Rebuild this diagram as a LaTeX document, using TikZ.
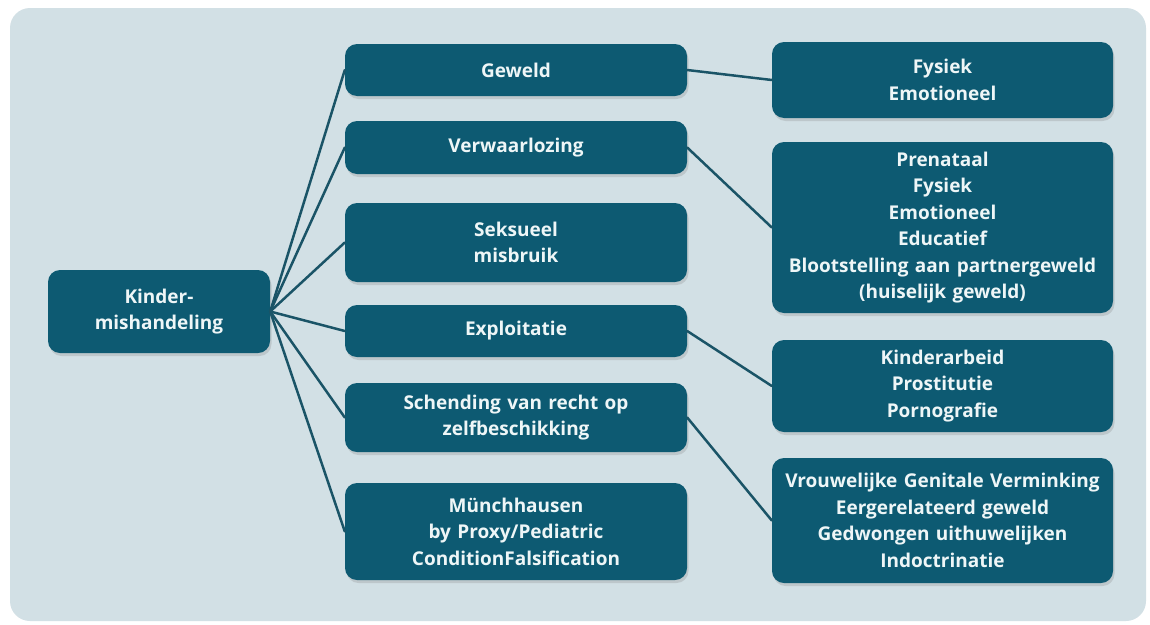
\documentclass[tikz,border=0pt]{standalone}
\usepackage{fontspec}
\setmainfont[Ligatures=NoCommon]{Open Sans}
\usetikzlibrary{shadows}
\definecolor{boxteal}{HTML}{0D5A72}
\definecolor{bgblue}{HTML}{D2E0E5}
\definecolor{linkteal}{HTML}{1A5467}
\definecolor{textwhite}{HTML}{EEF6F7}

\begin{document}
\begin{tikzpicture}[x=1pt,y=-1pt,line join=round,line cap=round]
\tikzset{box/.style={fill=boxteal,rounded corners=12pt,text=textwhite,align=center,
    font=\fontsize{19}{26.5}\selectfont\bfseries,inner sep=0pt,
    drop shadow={opacity=0.25,shadow xshift=1.5pt,shadow yshift=-3pt}},
  midbox/.style={box,text width=342pt},
  rightbox/.style={box,text width=341pt},
  link/.style={draw=linkteal,line width=2.5pt}}
\useasboundingbox (0,0) rectangle (1150,624);
\fill[white] (0,0) rectangle (1150,624);
\fill[bgblue,rounded corners=20pt] (10,8) rectangle (1146,621);
% root
\node[box,text width=222pt,minimum height=83pt] (kind) at (159,311.5) {Kinder-\\mishandeling};
% middle column
\node[midbox,minimum height=52pt] (geweld) at (516,70) {Geweld};
\node[midbox,minimum height=53pt] (verw) at (516,147.5) {Verwaarlozing};
\node[midbox,minimum height=79pt] (seks) at (516,242.5) {Seksueel\\misbruik};
\node[midbox,minimum height=52pt] (expl) at (516,331) {Exploitatie};
\node[midbox,minimum height=69pt] (schend) at (516,417.5) {Schending van recht op\\zelfbeschikking};
\node[midbox,minimum height=97pt] (munch) at (516,531.5) {Münchhausen\\by Proxy/Pediatric\\ConditionFalsification};
% right column
\node[rightbox,minimum height=76pt] (fys) at (942.5,80) {Fysiek\\Emotioneel};
\node[rightbox,minimum height=171pt] (pren) at (942.5,227.5) {Prenataal\\Fysiek\\Emotioneel\\Educatief\\Blootstelling aan partnergeweld\\(huiselijk geweld)};
\node[rightbox,minimum height=92pt] (arb) at (942.5,386) {Kinderarbeid\\Prostitutie\\Pornografie};
\node[rightbox,minimum height=125pt] (vgv) at (942.5,520.5) {Vrouwelijke Genitale Verminking\\Eergerelateerd geweld\\Gedwongen uithuwelijken\\Indoctrinatie};
% connectors
\foreach \n in {geweld,verw,seks,expl,schend,munch}
  \draw[link] (kind.east) -- (\n.west);
\draw[link] (geweld.east) -- (fys.west);
\draw[link] (verw.east) -- (pren.west);
\draw[link] (expl.east) -- (arb.west);
\draw[link] (schend.east) -- (vgv.west);
\end{tikzpicture}
\end{document}
